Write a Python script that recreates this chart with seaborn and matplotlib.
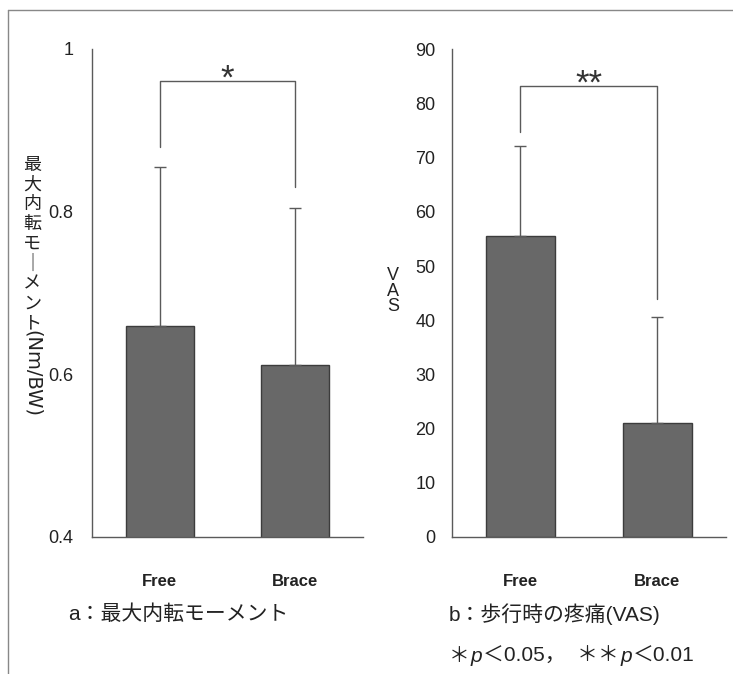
import matplotlib
matplotlib.use("Agg")
import matplotlib.pyplot as plt
import seaborn as sns
import pandas as pd
from matplotlib.lines import Line2D

# data
groups = ["Free", "Brace"]
moment_mean = [0.66, 0.612]
moment_sd = [0.195, 0.193]
vas_mean = [55.5, 21.1]
vas_sd = [16.7, 19.5]

# significance brackets: [left leg end, top, right leg end]
moment_bracket = [0.88, 0.961, 0.83]
vas_bracket = [74.8, 83.3, 43.9]

moment_ticks = [0.4, 0.6, 0.8, 1.0]
moment_ticklabels = ["0.4", "0.6", "0.8", "1"]
vas_ticks = list(range(0, 100, 10))

sns.set_style("white")
plt.rcParams["font.family"] = ["Liberation Sans", "Noto Sans CJK JP", "DejaVu Sans"]

bar_color = "#686868"
edge_color = "#3c3c3c"
line_color = "#5a5a5a"
text_color = "#222222"

fig = plt.figure(figsize=(7.33, 6.74), dpi=100)
ax1 = fig.add_axes([0.1255, 0.2033, 0.3697, 0.7240])
ax2 = fig.add_axes([0.6166, 0.2033, 0.3738, 0.7233])


def draw_panel(ax, means, sds, bracket, stars, ylim, ticks, ticklabels, tickpad):
    df = pd.DataFrame({"group": groups, "value": means})
    sns.barplot(data=df, x="group", y="value", ax=ax, color=bar_color,
                saturation=1, width=0.5, edgecolor=edge_color, linewidth=1,
                errorbar=None)
    ax.errorbar([0, 1], means, yerr=[[0, 0], sds], fmt="none",
                ecolor=line_color, elinewidth=1, capsize=4, capthick=1)
    ax.plot([0, 0, 1, 1], [bracket[0], bracket[1], bracket[1], bracket[2]],
            color=line_color, lw=1)
    ax.annotate(stars, (0.5, bracket[1]), xytext=(0, -6),
                textcoords="offset points", ha="center", va="baseline",
                fontsize=25, color="#333333")
    ax.set_xlim(-0.5, 1.5)
    ax.set_ylim(*ylim)
    ax.set_yticks(ticks)
    ax.set_yticklabels(ticklabels)
    ax.set_xlabel("")
    ax.set_ylabel("")
    for s in ["top", "right"]:
        ax.spines[s].set_visible(False)
    for s in ["left", "bottom"]:
        ax.spines[s].set_color(line_color)
        ax.spines[s].set_linewidth(1)
    ax.tick_params(axis="y", direction="in", length=5, width=1,
                   color=line_color, labelsize=13, pad=tickpad,
                   labelcolor=text_color)
    ax.tick_params(axis="x", which="major", length=0, pad=27, labelsize=12,
                   labelcolor=text_color)
    ax.set_xticks([0.5, 1.5], minor=True)
    ax.tick_params(axis="x", which="minor", direction="in", length=5, width=1,
                   color=line_color)
    for lab in ax.get_xticklabels():
        lab.set_fontweight("bold")


draw_panel(ax1, moment_mean, moment_sd, moment_bracket, "*", (0.4, 1.0),
           moment_ticks, moment_ticklabels, 13.5)
draw_panel(ax2, vas_mean, vas_sd, vas_bracket, "**", (0, 90),
           vas_ticks, [str(v) for v in vas_ticks], 12)

# vertical (stacked) y labels
fig.text(32 / 733, 1 - 157 / 674, "\n".join("最大内転モ｜メント"), ha="center",
         va="top", fontsize=13, linespacing=1.2, color=text_color)
fig.text(32 / 733, 1 - 330 / 674, "(Nm/BW)", ha="center", va="top",
         rotation=-90, fontsize=14, family="DejaVu Sans", color=text_color)
fig.text(393 / 733, 1 - 291 / 674, "V\nA\nS", ha="center", va="center",
         fontsize=13, linespacing=0.85, color=text_color)

# captions
fig.text(68 / 733, 1 - 614 / 674, "a：最大内転モーメント", ha="left",
         va="center", fontsize=15, color=text_color)
fig.text(449 / 733, 1 - 614 / 674, "b：歩行時の疼痛(VAS)", ha="left",
         va="center", fontsize=15, color=text_color)

# significance note, pieces laid out one after another (italic p)
note_parts = [("＊", "normal"), ("p", "italic"), ("＜0.05，  ＊＊", "normal"),
              ("p", "italic"), ("＜0.01", "normal")]
fig.canvas.draw()
renderer = fig.canvas.get_renderer()
x_px = 449
for txt, style in note_parts:
    t = fig.text(x_px / 733, 1 - 656 / 674, txt, ha="left", va="center",
                 fontsize=15, style=style, color=text_color)
    x_px += t.get_window_extent(renderer).width + 1

# page frame
fig.add_artist(Line2D([8 / 733, 8 / 733], [0, 1 - 10 / 674],
                      transform=fig.transFigure, color="#888888", lw=1))
fig.add_artist(Line2D([8 / 733, 1], [1 - 10 / 674, 1 - 10 / 674],
                      transform=fig.transFigure, color="#888888", lw=1))

fig.savefig("out.png", dpi=100)
